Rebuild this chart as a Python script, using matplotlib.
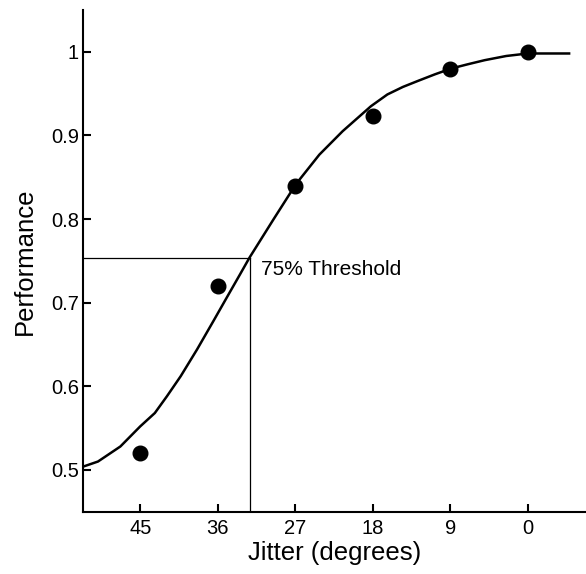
import matplotlib
matplotlib.use("Agg")
import matplotlib.pyplot as plt

plt.rcParams['font.family'] = ['Liberation Sans', 'DejaVu Sans']

# measured points
jitter = [45, 36, 27, 18, 9, 0]
performance = [0.52, 0.72, 0.84, 0.923, 0.98, 1.0]

# fitted curve
curve_x = [51.6, 49.9, 47.3, 45.0, 43.3, 41.9, 40.3, 38.4, 36.5, 34.9, 33.4, 32.3,
           29.5, 26.9, 24.2, 21.5, 18.2, 16.3, 14.5, 12.8, 10.8, 8.9, 7.0, 5.0, 2.5, 0.0, -4.8]
curve_y = [0.504, 0.510, 0.528, 0.552, 0.568, 0.588, 0.612, 0.644, 0.678, 0.707, 0.734, 0.754,
           0.800, 0.842, 0.877, 0.905, 0.935, 0.949, 0.958, 0.965, 0.973, 0.980, 0.985, 0.990,
           0.995, 0.998, 0.998]

thresh_x = 32.3
thresh_y = 0.754
xticks = [45, 36, 27, 18, 9, 0]
yticks = [0.5, 0.6, 0.7, 0.8, 0.9, 1.0]
ytick_labels = ['0.5', '0.6', '0.7', '0.8', '0.9', '1']

fig = plt.figure(figsize=(5.86, 5.74), dpi=100)
ax = fig.add_axes([83 / 586, 62.3 / 574, 503 / 586, 501.7 / 574])

ax.plot(curve_x, curve_y, color='black', lw=1.8, zorder=3)
ax.plot(jitter, performance, 'o', color='black', ms=10.5, zorder=4)

# threshold guide lines
ax.plot([60, thresh_x], [thresh_y, thresh_y], color='black', lw=0.9)
ax.plot([thresh_x, thresh_x], [0.4, thresh_y], color='black', lw=0.9)
ax.text(31.0, 0.733, '75% Threshold', fontsize=15, va='baseline', ha='left')

ax.set_xlim(51.64, -6.76)
ax.set_ylim(0.45, 1.05)
ax.set_xticks(xticks)
ax.set_yticks(yticks)
ax.set_yticklabels(ytick_labels)

ax.spines['top'].set_visible(False)
ax.spines['right'].set_visible(False)
ax.spines['left'].set_linewidth(1.5)
ax.spines['bottom'].set_linewidth(1.5)
ax.tick_params(direction='in', length=6, width=1.5, labelsize=14.5)
ax.tick_params(axis='x', pad=5)
ax.tick_params(axis='y', pad=3)

ax.set_xlabel('Jitter (degrees)', fontsize=18.5)
ax.set_ylabel('Performance', fontsize=18.5)
ax.xaxis.set_label_coords(0.5, -0.058)
ax.yaxis.set_label_coords(-0.092, 0.5)

fig.savefig('out.png', dpi=100)
